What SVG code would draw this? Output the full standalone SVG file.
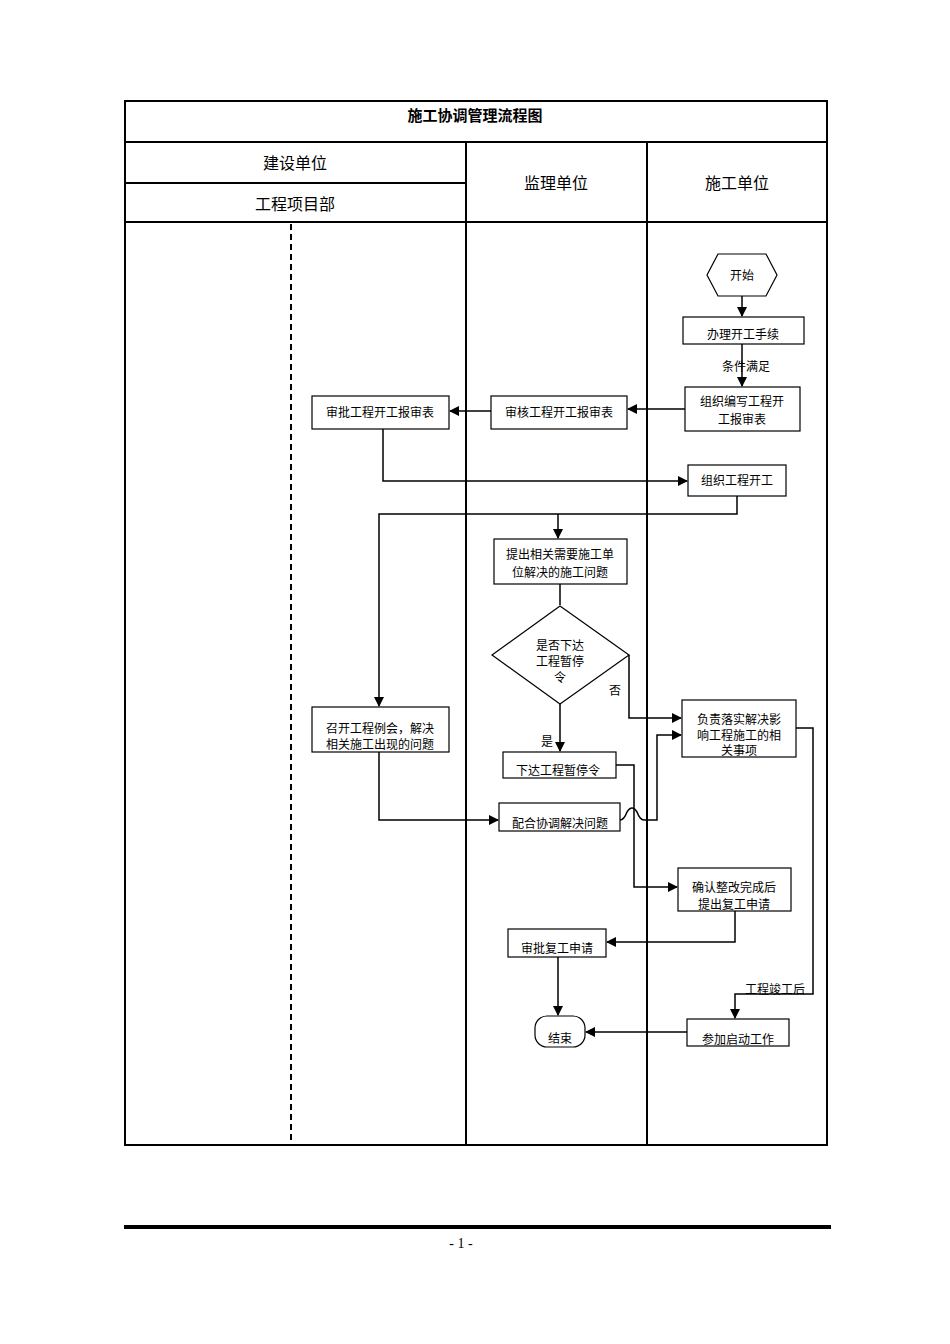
<svg xmlns="http://www.w3.org/2000/svg" width="950" height="1344" viewBox="0 0 950 1344">
<style>
text{font-family:"Liberation Sans","Noto Sans CJK SC",sans-serif;font-size:12px;fill:#000;text-anchor:middle}
.h{font-size:16px}
.b{fill:#fff;stroke:#000;stroke-width:1.2}
.s{fill:#000}
.c{fill:none;stroke:#000;stroke-width:1.5}
.g{fill:none;stroke:#000;stroke-width:2}
</style>
<defs><marker id="a" markerWidth="10" markerHeight="10" refX="9" refY="5" orient="auto" markerUnits="userSpaceOnUse"><path d="M0,0 L10,5 L0,10 Z"/></marker></defs>
<rect width="950" height="1344" fill="#fff"/>
<g id="table">
<rect x="125" y="101" width="702" height="1044" class="g"/>
<line x1="125" y1="142" x2="827" y2="142" class="g"/>
<line x1="125" y1="222" x2="827" y2="222" class="g"/>
<line x1="125" y1="183" x2="466" y2="183" class="g"/>
<line x1="466" y1="142" x2="466" y2="1145" class="g"/>
<line x1="647" y1="142" x2="647" y2="1145" class="g"/>
<line x1="291" y1="224" x2="291" y2="1140" stroke="#000" stroke-width="2" stroke-dasharray="6,4"/>
<text x="475" y="121" style="font-size:15px;font-weight:bold">施工协调管理流程图</text>
<text x="295" y="169" class="h">建设单位</text>
<text x="295" y="210" class="h">工程项目部</text>
<text x="556" y="189" class="h">监理单位</text>
<text x="737" y="189" class="h">施工单位</text>
</g>
<g id="connectors">
<path d="M742,296V316" class="c" marker-end="url(#a)"/>
<path d="M742,344V386" class="c" marker-end="url(#a)"/>
<path d="M685,409H628" class="c" marker-end="url(#a)"/>
<path d="M491,411H450" class="c" marker-end="url(#a)"/>
<path d="M383,429V481H687" class="c" marker-end="url(#a)"/>
<path d="M737,496V514H379V706" class="c" marker-end="url(#a)"/>
<path d="M558,514V538" class="c" marker-end="url(#a)"/>
<path d="M560,584V605" class="c"/>
<path d="M629,655V718H681" class="c" marker-end="url(#a)"/>
<path d="M560,704V751" class="c" marker-end="url(#a)"/>
<path d="M616,765H634V887H677" class="c" marker-end="url(#a)"/>
<path d="M379,752V820H498" class="c" marker-end="url(#a)"/>
<path d="M620,820Q624,820 627,812Q632,804 637,812Q640,820 644,820H657V735H681" class="c" marker-end="url(#a)"/>
<path d="M735,911V942H607" class="c" marker-end="url(#a)"/>
<path d="M558,957V1015" class="c" marker-end="url(#a)"/>
<path d="M796,728H813V994H735V1018" class="c" marker-end="url(#a)"/>
<path d="M687,1032H586" class="c" marker-end="url(#a)"/>
<text x="746" y="371">条件满足</text>
<text x="615" y="695">否</text>
<text x="547" y="746">是</text>
<text x="775" y="994">工程竣工后</text>
</g>
<g id="start"><polygon points="707,275 718,254 766,254 777,275 766,296 718,296" class="b"/><text x="742" y="280">开始</text></g>
<g id="n1"><rect x="683" y="317" width="121" height="27" class="b"/><text x="743" y="339">办理开工手续</text></g>
<g id="n2"><rect x="685" y="387" width="115" height="44" class="b"/><text x="742" y="406">组织编写工程开</text><text x="742" y="424">工报审表</text></g>
<g id="n3"><rect x="491" y="396" width="136" height="33" class="b"/><text x="559" y="417">审核工程开工报审表</text></g>
<g id="n4"><rect x="312" y="396" width="137" height="33" class="b"/><text x="380" y="417">审批工程开工报审表</text></g>
<g id="n5"><rect x="688" y="465" width="98" height="31" class="b"/><text x="737" y="485">组织工程开工</text></g>
<g id="n6"><rect x="494" y="539" width="133" height="45" class="b"/><text x="560" y="559">提出相关需要施工单</text><text x="560" y="577">位解决的施工问题</text></g>
<g id="d1"><polygon points="560,606 629,655 560,704 492,655" class="b"/><text x="560" y="650">是否下达</text><text x="560" y="666">工程暂停</text><text x="560" y="682">令</text></g>
<g id="n7"><rect x="682" y="700" width="114" height="57" class="b"/><text x="739" y="724">负责落实解决影</text><text x="739" y="740">响工程施工的相</text><text x="739" y="755">关事项</text></g>
<g id="n8"><rect x="503" y="752" width="113" height="26" class="b"/><text x="558" y="775">下达工程暂停令</text></g>
<g id="n9"><rect x="312" y="707" width="137" height="45" class="b"/><text x="380" y="733">召开工程例会，解决</text><text x="380" y="749">相关施工出现的问题</text></g>
<g id="n10"><rect x="499" y="803" width="121" height="28" class="b"/><text x="560" y="828">配合协调解决问题</text></g>
<g id="n11"><rect x="678" y="868" width="113" height="43" class="b"/><text x="734" y="892">确认整改完成后</text><text x="734" y="909">提出复工申请</text></g>
<g id="n12"><rect x="508" y="929" width="98" height="28" class="b"/><text x="557" y="953">审批复工申请</text></g>
<g id="end"><rect x="535" y="1016" width="50" height="31" rx="12" class="b"/><text x="560" y="1043">结束</text></g>
<g id="n13"><rect x="687" y="1019" width="102" height="27" class="b"/><text x="738" y="1044">参加启动工作</text></g>
<g id="footer"><line x1="124" y1="1227" x2="831" y2="1227" stroke="#000" stroke-width="4"/><text x="461" y="1248" style="font-family:'Liberation Serif',serif;font-size:14px">- 1 -</text></g>
</svg>
